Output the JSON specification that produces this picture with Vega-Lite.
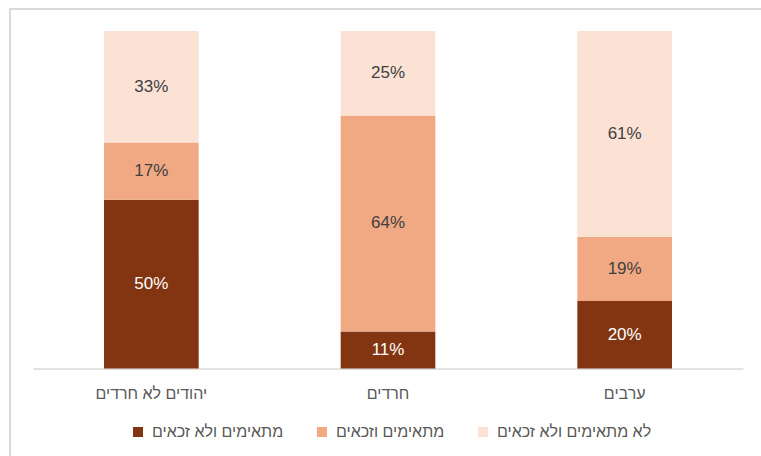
{
  "$schema": "https://vega.github.io/schema/vega-lite/v6.json",
  "width": 752,
  "height": 448,
  "autosize": {"type": "none"},
  "padding": {"left": 10, "top": 9, "right": -1, "bottom": -1},
  "background": "white",
  "config": {
    "view": {"stroke": "#d9d9d9", "strokeWidth": 2},
    "font": "Liberation Sans"
  },
  "data": {
    "values": [
      {"group": "יהודים לא חרדים", "series": "מתאימים ולא זכאים", "value": 50},
      {"group": "יהודים לא חרדים", "series": "מתאימים וזכאים", "value": 17},
      {"group": "יהודים לא חרדים", "series": "לא מתאימים ולא זכאים", "value": 33},
      {"group": "חרדים", "series": "מתאימים ולא זכאים", "value": 11},
      {"group": "חרדים", "series": "מתאימים וזכאים", "value": 64},
      {"group": "חרדים", "series": "לא מתאימים ולא זכאים", "value": 25},
      {"group": "ערבים", "series": "מתאימים ולא זכאים", "value": 20},
      {"group": "ערבים", "series": "מתאימים וזכאים", "value": 19},
      {"group": "ערבים", "series": "לא מתאימים ולא זכאים", "value": 61}
    ]
  },
  "transform": [
    {"stack": "value", "groupby": ["group"], "sort": [{"field": "series", "order": "descending"}], "as": ["y0", "y1"]},
    {"calculate": "(datum.y0 + datum.y1) / 2", "as": "ymid"},
    {"calculate": "datum.value + '%'", "as": "label"}
  ],
  "encoding": {
    "x": {
      "field": "group",
      "type": "nominal",
      "sort": null,
      "scale": {"range": [23, 733], "paddingInner": 0.6, "paddingOuter": 0.3},
      "axis": {
        "title": null,
        "labelAngle": 0,
        "offset": -88.5,
        "domainColor": "#d9d9d9",
        "domainWidth": 1.5,
        "ticks": false,
        "labelFontSize": 16,
        "labelColor": "#595959",
        "labelPadding": 17
      }
    }
  },
  "layer": [
    {
      "mark": {"type": "bar"},
      "encoding": {
        "y": {"field": "y0", "type": "quantitative", "scale": {"domain": [0, 100], "range": [359.5, 22]}, "axis": null},
        "y2": {"field": "y1"},
        "color": {
          "field": "series",
          "type": "nominal",
          "scale": {
            "domain": ["מתאימים ולא זכאים", "מתאימים וזכאים", "לא מתאימים ולא זכאים"],
            "range": ["#823510", "#F1A983", "#FBE2D5"]
          },
          "legend": {
            "title": null,
            "orient": "none",
            "legendX": 120,
            "legendY": 415,
            "direction": "horizontal",
            "symbolType": "square",
            "symbolSize": 100,
            "symbolStrokeWidth": 0,
            "labelFontSize": 16,
            "labelColor": "#595959",
            "labelOffset": 6,
            "columnPadding": 30
          }
        }
      }
    },
    {
      "mark": {"type": "text", "fontSize": 17},
      "encoding": {
        "y": {"field": "ymid", "type": "quantitative", "scale": {"domain": [0, 100], "range": [359.5, 22]}, "axis": null},
        "text": {"field": "label"},
        "color": {
          "condition": {"test": "datum.series === 'מתאימים ולא זכאים'", "value": "white"},
          "value": "#404040"
        }
      }
    }
  ]
}
